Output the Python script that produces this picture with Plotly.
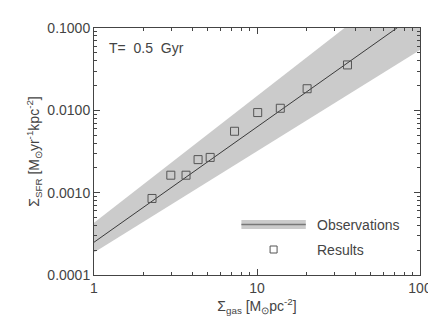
import plotly.graph_objects as go

# Observations (Kennicutt-Schmidt law) read at x = 1 and x = 100
obs_x = [1, 100]
obs_y = [2.5e-4, 0.158]
band_upper_y = [4.3e-4, 0.517]
band_lower_y = [1.88e-4, 0.054]

# Simulation results
res_x = [2.27, 2.96, 3.67, 4.35, 5.16, 7.28, 10.1, 13.9, 20.3, 35.9]
res_y = [8.5e-4, 1.63e-3, 1.63e-3, 2.52e-3, 2.68e-3, 5.57e-3, 9.4e-3, 1.06e-2, 1.83e-2, 3.56e-2]

y_tickvals = [1e-4, 1e-3, 1e-2, 1e-1]
y_ticktext = ["0.0001", "0.0010", "0.0100", "0.1000"]
x_tickvals = [1, 10, 100]
x_ticktext = ["1", "10", "100"]
x_minor = [m * d for d in (1, 10) for m in range(2, 10)]
y_minor = [m * d for d in (1e-4, 1e-3, 1e-2) for m in range(2, 10)]

band_col = "#cbcbcb"
line_col = "#3a3a3a"
txt_col = "#444444"
ax_col = "#444444"
font = "Liberation Sans"
fs = 14

fig = go.Figure()
fig.add_trace(go.Scatter(
    x=obs_x + obs_x[::-1], y=band_upper_y + band_lower_y[::-1],
    fill="toself", fillcolor=band_col, line=dict(width=0), mode="lines",
    hoverinfo="skip", showlegend=False))
fig.add_trace(go.Scatter(
    x=obs_x, y=obs_y, mode="lines", line=dict(color=line_col, width=1),
    showlegend=False))
fig.add_trace(go.Scatter(
    x=res_x, y=res_y, mode="markers",
    marker=dict(symbol="square-open", size=8, color="#555555", line=dict(width=1)),
    showlegend=False))

axis_common = dict(
    type="log", showgrid=False, zeroline=False, showline=True,
    linecolor=ax_col, linewidth=1, mirror="ticks", ticks="inside",
    ticklen=6, tickcolor=ax_col,
    tickfont=dict(family=font, size=fs, color=txt_col),
)

fig.update_xaxes(range=[0, 2], tickvals=x_tickvals, ticktext=x_ticktext,
                 ticklabelstandoff=0,
                 title=dict(text="Σ<sub>gas</sub> [M<sub>⊙</sub>pc<sup>-2</sup>]",
                            font=dict(family=font, size=fs, color=txt_col), standoff=2),
                 **axis_common)
fig.update_yaxes(range=[-4, -1], tickvals=y_tickvals, ticktext=y_ticktext,
                 title=dict(text="Σ<sub>SFR</sub> [M<sub>⊙</sub>yr<sup>-1</sup>kpc<sup>-2</sup>]",
                            font=dict(family=font, size=fs, color=txt_col), standoff=4),
                 **axis_common)

# Minor ticks via overlay axes
fig.update_layout(
    xaxis3=dict(type="log", range=[0, 2], overlaying="x", anchor="y", side="bottom",
                tickvals=x_minor, ticks="inside", ticklen=3, tickcolor=ax_col,
                showticklabels=False, showgrid=False, zeroline=False,
                showline=False, mirror="ticks"),
    yaxis3=dict(type="log", range=[-4, -1], overlaying="y", anchor="x", side="left",
                tickvals=y_minor, ticks="inside", ticklen=3, tickcolor=ax_col,
                showticklabels=False, showgrid=False, zeroline=False,
                showline=False, mirror="ticks"),
)
fig.add_trace(go.Scatter(x=[1], y=[1e-4], xaxis="x3", yaxis="y3", mode="markers",
                         marker=dict(opacity=0), showlegend=False, hoverinfo="skip"))

W, H = 436, 317
L, R, T, B = 86, 16, 15, 50
pw, ph = W - L - R, H - T - B

def px(xp):
    return (xp - L) / pw

def py(yp):
    return 1 - (yp - T) / ph

# Custom legend
fig.add_shape(type="rect", xref="paper", yref="paper",
              x0=px(237), x1=px(303), y0=py(220), y1=py(211),
              fillcolor=band_col, line=dict(width=0))
fig.add_shape(type="line", xref="paper", yref="paper",
              x0=px(237), x1=px(303), y0=py(215.5), y1=py(215.5),
              line=dict(color="#777777", width=1.5))
fig.add_trace(go.Scatter(x=[0.5], y=[0.5], xaxis="x2", yaxis="y2", mode="markers",
                         marker=dict(symbol="square-open", size=7, color="#555555"),
                         showlegend=False, hoverinfo="skip"))
fig.update_layout(
    xaxis2=dict(range=[0, 1], domain=[px(265), px(275)], visible=False, anchor="y2"),
    yaxis2=dict(range=[0, 1], domain=[py(246), py(236)], visible=False, anchor="x2"),
)

fig.update_layout(
    width=W, height=H,
    margin=dict(l=L, r=R, t=T, b=B),
    paper_bgcolor="white", plot_bgcolor="white",
    showlegend=False,
    annotations=[
        dict(x=px(99), y=py(35), xref="paper", yref="paper", text="T=&nbsp;&nbsp;0.5&nbsp;&nbsp;Gyr",
             showarrow=False, xanchor="left", yanchor="middle",
             font=dict(family=font, size=fs, color=txt_col)),
        dict(x=px(312), y=py(215.5), xref="paper", yref="paper", text="Observations",
             showarrow=False, xanchor="left", yanchor="middle",
             font=dict(family=font, size=fs, color=txt_col)),
        dict(x=px(312), y=py(241), xref="paper", yref="paper", text="Results",
             showarrow=False, xanchor="left", yanchor="middle",
             font=dict(family=font, size=fs, color=txt_col)),
    ],
)

fig.write_html("out.html")
